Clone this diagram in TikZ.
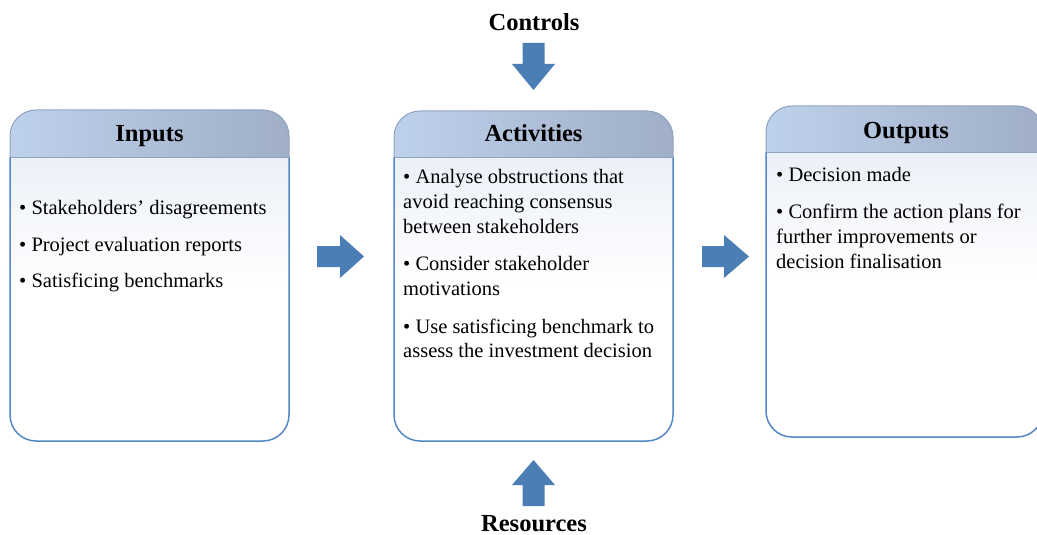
\documentclass[tikz,border=0pt]{standalone}
\usepackage{fontspec}
\setmainfont{Liberation Serif}
\definecolor{arrowblue}{RGB}{74,126,180}
\definecolor{boxline}{RGB}{84,136,196}
\definecolor{headline}{RGB}{143,163,193}
\definecolor{headleft}{RGB}{190,209,235}
\definecolor{headright}{RGB}{160,174,199}
\definecolor{bodytop}{RGB}{236,240,247}
\tikzset{
  bodytext/.style={font=\fontsize{20.5}{25}\selectfont, inner sep=0pt, anchor=base west},
  titletext/.style={font=\bfseries\fontsize{24.5}{29}\selectfont, inner sep=0pt, anchor=base},
  blockarrow/.style={fill=arrowblue, draw=none},
}
% process box: #1 left, #2 right, #3 top, #4 header bottom, #5 bottom
\newcommand{\processbox}[5]{%
  \begin{scope}
    \clip (#1-5,#4) rectangle (#2+5,#5+5);
    \fill[white, rounded corners=26pt] (#1,#3) rectangle (#2,#5);
    \shade[top color=bodytop, bottom color=white] (#1,#4) rectangle (#2,#4+130);
    \draw[boxline, line width=1.5pt, rounded corners=26pt] (#1,#3) rectangle (#2,#5);
  \end{scope}
  \begin{scope}
    \clip (#1-5,#3-5) rectangle (#2+5,#4);
    \shade[left color=headleft, right color=headright, rounded corners=26pt]
      (#1,#3) rectangle (#2,#5);
    \draw[headline, line width=1pt, rounded corners=26pt] (#1,#3) rectangle (#2,#5);
  \end{scope}
  \draw[headline, line width=1pt] (#1,#4) -- (#2,#4);
}
\begin{document}
\begin{tikzpicture}[x=1pt, y=-1pt]
  \useasboundingbox (0,0) rectangle (1037,535);

  % the three boxes
  \processbox{10}{289}{110}{157}{441}
  \processbox{394}{673}{111}{157}{441}
  \processbox{766}{1043}{106}{152}{437}

  % titles
  \node[titletext] (controls)   at (534,31)    {Controls};
  \node[titletext] (inputs)     at (149.5,142) {Inputs};
  \node[titletext] (activities) at (533.5,142) {Activities};
  \node[titletext] (outputs)    at (906,138)   {Outputs};
  \node[titletext] (resources)  at (534,531)   {Resources};

  % inputs
  \node[bodytext] (in1) at (19,214) {\textbullet{} Stakeholders’ disagreements};
  \node[bodytext] (in2) at (19,251) {\textbullet{} Project evaluation reports};
  \node[bodytext] (in3) at (19,287) {\textbullet{} Satisficing benchmarks};

  % activities
  \node[bodytext] (ac1a) at (403,183) {\textbullet{} Analyse obstructions that};
  \node[bodytext] (ac1b) at (403,208) {avoid reaching consensus};
  \node[bodytext] (ac1c) at (403,233) {between stakeholders};
  \node[bodytext] (ac2a) at (403,270) {\textbullet{} Consider stakeholder};
  \node[bodytext] (ac2b) at (403,295) {motivations};
  \node[bodytext] (ac3a) at (403,333) {\textbullet{} Use satisficing benchmark to};
  \node[bodytext] (ac3b) at (403,357) {assess the investment decision};

  % outputs
  \node[bodytext] (ou1)  at (776,181) {\textbullet{} Decision made};
  \node[bodytext] (ou2a) at (776,218) {\textbullet{} Confirm the action plans for};
  \node[bodytext] (ou2b) at (776,243) {further improvements or};
  \node[bodytext] (ou2c) at (776,268) {decision finalisation};

  % block arrows
  \fill[blockarrow] (317,246) -- (340,246) -- (340,235) -- (364,256.5)
    -- (340,278) -- (340,267) -- (317,267) -- cycle;
  \fill[blockarrow] (702,246) -- (724,246) -- (724,235) -- (749,256.5)
    -- (724,278) -- (724,267) -- (702,267) -- cycle;
  \fill[blockarrow] (522.5,43) -- (544.5,43) -- (544.5,64) -- (555,64)
    -- (533.5,90) -- (512,64) -- (522.5,64) -- cycle;
  \fill[blockarrow] (522.5,506) -- (544.5,506) -- (544.5,485) -- (555,485)
    -- (533.5,460) -- (512,485) -- (522.5,485) -- cycle;
\end{tikzpicture}
\end{document}
